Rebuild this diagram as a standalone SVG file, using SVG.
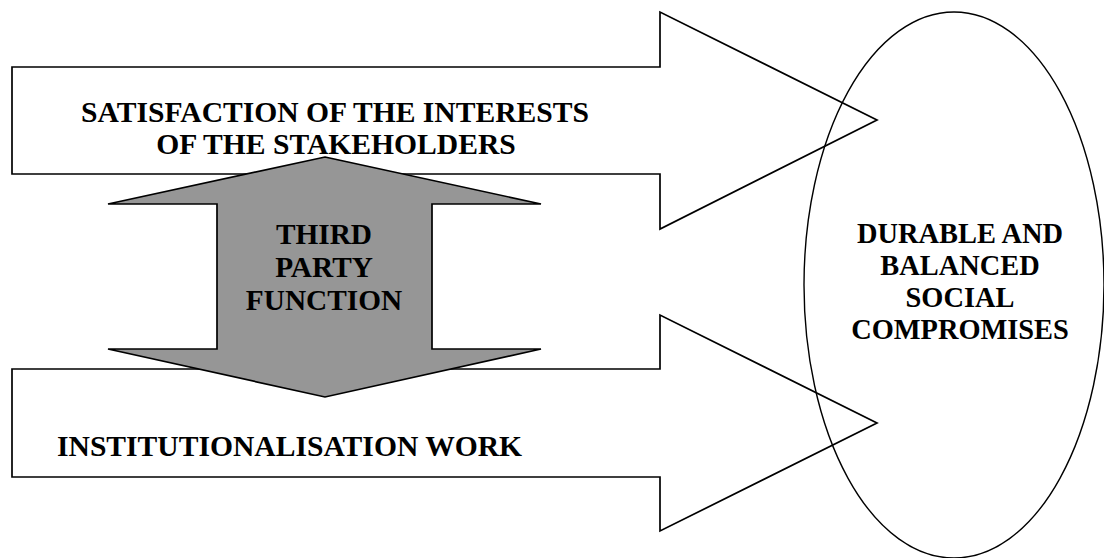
<svg xmlns="http://www.w3.org/2000/svg" width="1104" height="558" viewBox="0 0 1104 558">
<style>
.arrow{fill:#ffffff;stroke:#000000;stroke-width:1.7;stroke-linejoin:miter}
.gray{fill:#969696;stroke:#000000;stroke-width:1.7}
.ell{fill:none;stroke:#000000;stroke-width:1.4}
.t{font-family:"Liberation Serif","Times New Roman",serif;font-weight:bold;font-size:29.6px;fill:#000000}
.m{font-size:29.3px}
.e{font-size:28.4px}
.c{text-anchor:middle}
</style>
<rect width="1104" height="558" fill="#ffffff"/>
<g id="connectors">
<g id="arrow-satisfaction">
<polygon class="arrow" points="12,67 660,67 660,12 877,120 660,229 660,174 12,174"/>
<text class="t c" x="335" y="122">SATISFACTION OF THE INTERESTS</text>
<text class="t c" x="336" y="154">OF THE STAKEHOLDERS</text>
</g>
<g id="arrow-institutionalisation">
<polygon class="arrow" points="12,369 660,369 660,315 877,423 660,531 660,477 12,477"/>
<text class="t" x="57" y="456">INSTITUTIONALISATION WORK</text>
</g>
</g>
<g id="third-party">
<polygon class="gray" points="325,157 541,204 432,204 432,349 541,349 325,397 108,349 217,349 217,204 108,204"/>
<text class="t m c" x="324" y="244">THIRD</text>
<text class="t m c" x="324" y="277">PARTY</text>
<text class="t m c" x="324" y="310">FUNCTION</text>
</g>
<g id="compromises">
<ellipse class="ell" cx="954" cy="285" rx="150" ry="273"/>
<text class="t e c" x="960" y="243">DURABLE AND</text>
<text class="t e c" x="960" y="275">BALANCED</text>
<text class="t e c" x="960" y="307">SOCIAL</text>
<text class="t e c" x="960" y="339">COMPROMISES</text>
</g>
</svg>
